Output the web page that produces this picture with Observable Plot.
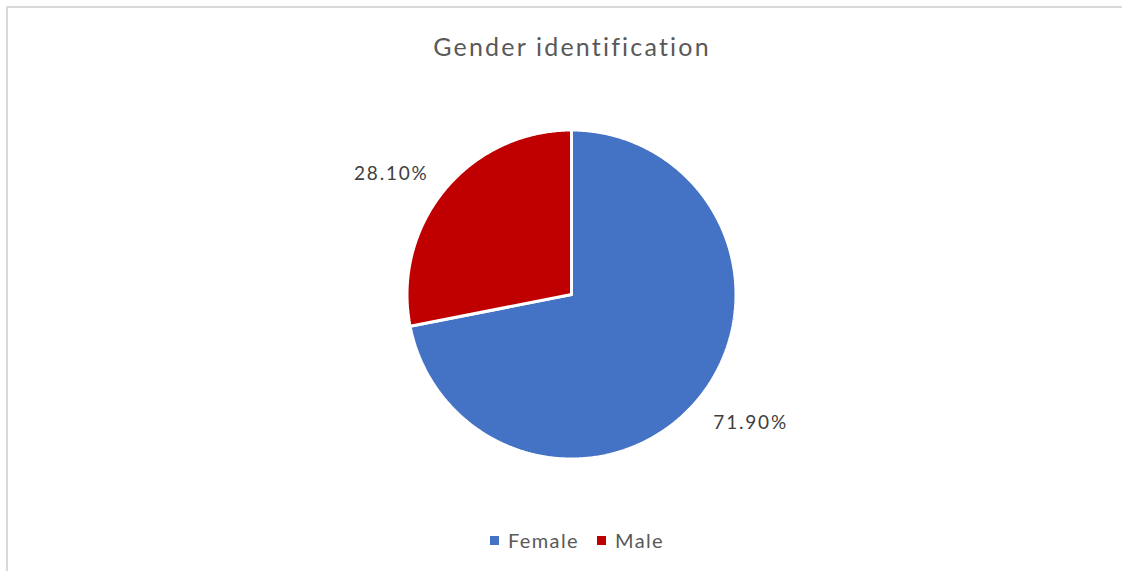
<!DOCTYPE html>
<html>
<head>
<meta charset="utf-8">
<script src="https://cdn.jsdelivr.net/npm/d3@7"></script>
<script src="https://cdn.jsdelivr.net/npm/@observablehq/plot@0.6"></script>
<style>
  html, body { margin: 0; padding: 0; background: #fff; }
  body { width: 1122px; height: 571px; position: relative; overflow: hidden; font-family: Lato, "Open Sans", sans-serif; }
  #frame { position: absolute; left: 6px; top: 6px; width: 1130px; height: 580px; border-left: 2px solid #d9d9d9; border-top: 2px solid #d9d9d9; }
  #chart { position: absolute; left: 0; top: 0; }
  #title { position: absolute; left: 0; width: 1144px; top: 31px; text-align: center; font-size: 25px; color: #595959; letter-spacing: 2.2px; }
  #legend { position: absolute; left: 0; width: 1154px; top: 528px; text-align: center; font-size: 20px; color: #595959; letter-spacing: 1.4px; }
  #legend .item { display: inline-block; margin: 0 9px; }
  #legend .sw { display: inline-block; width: 9px; height: 9px; margin-right: 9px; vertical-align: 3px; }
</style>
</head>
<body>
<div id="frame"></div>
<div id="chart"></div>
<div id="title">Gender identification</div>
<div id="legend"></div>
<script>
// ---- data ----
const categories = ["Female", "Male"];
const shares = [71.9, 28.1];           // percent
const labels = ["71.90%", "28.10%"];
const colors = ["#4472C4", "#C00000"];

// ---- build slice outlines (unit circle, Excel style: start at 12 o'clock, clockwise) ----
const total = d3.sum(shares);
let acc = 0;
const slices = categories.map((c, i) => {
  const a0 = acc / total * 2 * Math.PI;
  acc += shares[i];
  const a1 = acc / total * 2 * Math.PI;
  return {cat: c, a0, a1, mid: (a0 + a1) / 2, label: labels[i]};
});
const outline = [];
for (const s of slices) {
  outline.push({cat: s.cat, x: 0, y: 0});
  const n = Math.max(2, Math.ceil((s.a1 - s.a0) / (Math.PI / 360)));
  for (let k = 0; k <= n; k++) {
    const a = s.a0 + (s.a1 - s.a0) * k / n;
    outline.push({cat: s.cat, x: Math.sin(a), y: Math.cos(a)});
  }
  outline.push({cat: s.cat, x: 0, y: 0});
}
const lr = 1.14;
const labelPts = slices.map(s => ({cat: s.cat, label: s.label, x: lr * Math.sin(s.mid), y: lr * Math.cos(s.mid), right: Math.sin(s.mid) >= 0}));

// scale: 164.5 px per unit, centre at (571, 294)
const W = 1122, H = 571, R = 164.5, CX = 571, CY = 294;
const font = "Lato, 'Open Sans', sans-serif";

const chart = Plot.plot({
  width: W, height: H,
  margin: 0,
  x: {domain: [-CX / R, (W - CX) / R], axis: null},
  y: {domain: [-(H - CY) / R, CY / R], axis: null},
  color: {domain: categories, range: colors},
  style: {background: "transparent", overflow: "visible", letterSpacing: "1.8px"},
  marks: [
    Plot.line(outline, {x: "x", y: "y", z: "cat", fill: "cat", stroke: "white", strokeWidth: 3, strokeLinejoin: "miter", curve: "linear"}),
    Plot.text(labelPts.filter(d => d.right), {x: "x", y: "y", text: "label", textAnchor: "start", fontSize: 19, fill: "#404040", fontFamily: font, dx: -3, dy: 9}),
    Plot.text(labelPts.filter(d => !d.right), {x: "x", y: "y", text: "label", textAnchor: "end", fontSize: 19, fill: "#404040", fontFamily: font, dx: 2, dy: -2})
  ]
});
document.getElementById("chart").appendChild(chart);

// legend
const leg = document.getElementById("legend");
categories.forEach((c, i) => {
  const item = document.createElement("span");
  item.className = "item";
  const sw = document.createElement("span");
  sw.className = "sw";
  sw.style.background = colors[i];
  item.appendChild(sw);
  item.appendChild(document.createTextNode(c));
  leg.appendChild(item);
});
</script>
</body>
</html>
